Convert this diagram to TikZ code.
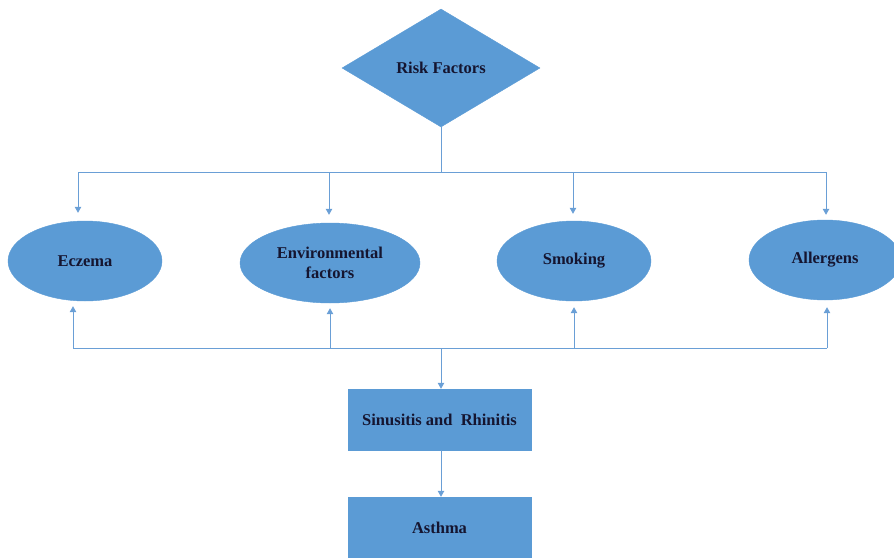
\documentclass[tikz,border=0pt]{standalone}
\usepackage{fontspec}
\setmainfont{Liberation Serif}
\usetikzlibrary{shapes.geometric,arrows.meta}
\definecolor{boxblue}{HTML}{5B9BD5}
\definecolor{lineblue}{HTML}{6A9FD6}
\definecolor{txt}{HTML}{151530}
\tikzset{
  lbl/.style={text=txt,font=\fontsize{16.5}{20}\selectfont\bfseries,align=center},
  oval/.style={ellipse,fill=boxblue,draw=boxblue,inner sep=0pt,minimum width=154pt,minimum height=80pt,lbl},
  rbox/.style={rectangle,fill=boxblue,draw=boxblue,inner sep=0pt,minimum width=183pt,minimum height=61pt,lbl},
  rdiam/.style={diamond,fill=boxblue,draw=boxblue,inner sep=0pt,aspect=1.68,minimum width=198pt,minimum height=118pt,lbl},
  link/.style={draw=lineblue,line width=1pt},
  arr/.style={link,-{Triangle[length=6pt,width=6.5pt]}}
}
\begin{document}
\begin{tikzpicture}[x=1pt,y=-1pt]
\useasboundingbox (0,0) rectangle (894,557);
\begin{scope}
\clip (0,0) rectangle (894,557);
\node[rdiam] (rf) at (441,68) {Risk Factors};
\node[oval] (ecz) at (85,261) {Eczema};
\node[oval,minimum width=180pt] (env) at (330,263) {Environmental\\factors};
\node[oval] (smk) at (574,261) {Smoking};
\node[oval,minimum width=152pt] (all) at (825,260) {Allergens};
\node[rbox] (sin) at (439.5,419.5) {Sinusitis and\ \ Rhinitis};
\node[rbox,minimum height=62pt] (ast) at (439.5,528) {Asthma};
\end{scope}
\coordinate (t0) at (441,172);
\coordinate (t1) at (78,172);
\coordinate (t2) at (329,172);
\coordinate (t3) at (573,172);
\coordinate (t4) at (826,172);
\coordinate (b0) at (441,348);
\coordinate (b1) at (73,348);
\coordinate (b2) at (330,348);
\coordinate (b3) at (574,348);
\coordinate (b4) at (827,348);
\draw[link] (rf.south) -- (t0);
\draw[link] (t1) -- (t4);
\draw[arr,shorten >=8pt] (t1) -- (t1 |- ecz.north);
\draw[arr,shorten >=8pt] (t2) -- (t2 |- env.north);
\draw[arr,shorten >=7pt] (t3) -- (t3 |- smk.north);
\draw[arr,shorten >=5pt] (t4) -- (t4 |- all.north);
\draw[link] (b1) -- (b4);
\draw[arr,shorten >=5pt] (b1) -- (b1 |- ecz.south);
\draw[arr,shorten >=5pt] (b2) -- (b2 |- env.south);
\draw[arr,shorten >=6pt] (b3) -- (b3 |- smk.south);
\draw[arr,shorten >=7pt] (b4) -- (b4 |- all.south);
\draw[arr] (b0) -- (b0 |- sin.north);
\draw[arr] (sin.south -| 441,0) -- (ast.north -| 441,0);
\end{tikzpicture}
\end{document}
